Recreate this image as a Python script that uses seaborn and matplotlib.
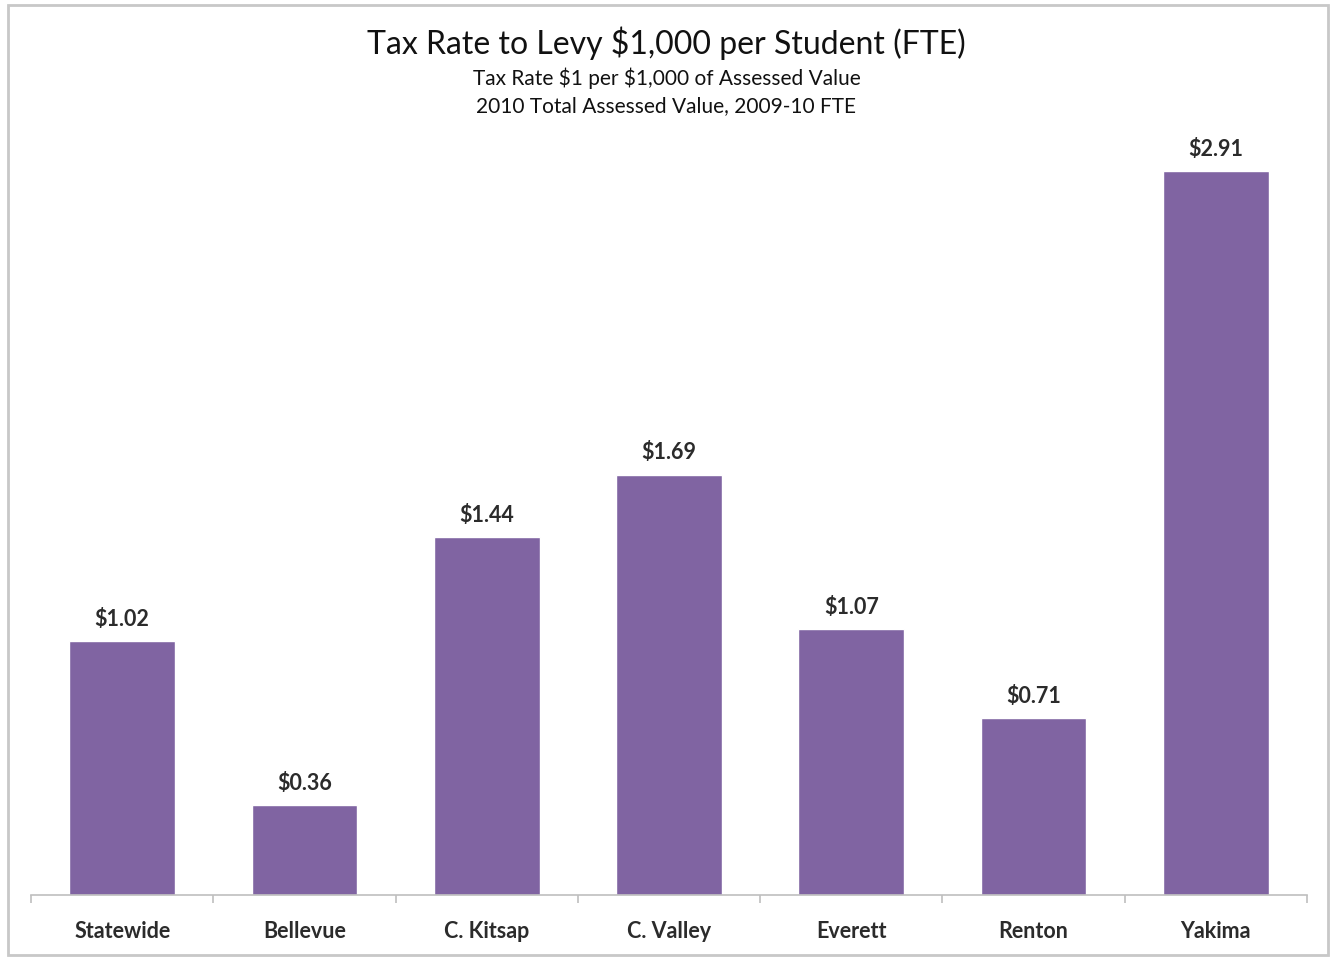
import matplotlib
matplotlib.use("Agg")
import matplotlib.pyplot as plt
import seaborn as sns
import pandas as pd
from matplotlib.patches import Rectangle

districts = ["Statewide", "Bellevue", "C. Kitsap", "C. Valley", "Everett", "Renton", "Yakima"]
tax_rates = [1.02, 0.36, 1.44, 1.69, 1.07, 0.71, 2.91]

title = "Tax Rate to Levy $1,000 per Student (FTE)"
subtitle_1 = "Tax Rate $1 per $1,000 of Assessed Value"
subtitle_2 = "2010 Total Assessed Value, 2009-10 FTE"

sns.set_theme(style="white")
plt.rcParams["font.family"] = ["Lato", "DejaVu Sans"]

df = pd.DataFrame({"district": districts, "rate": tax_rates})

fig = plt.figure(figsize=(13.33, 9.58), dpi=100)
ax = fig.add_axes([0.0233, 0.0658, 0.9572, 0.8309])

sns.barplot(data=df, x="district", y="rate", color="#8064A2", saturation=1,
            width=0.58, ax=ax)

ax.set_ylim(0, 3.2)
ax.set_xlim(-0.5, len(districts) - 0.5)
ax.set_xlabel("")
ax.set_ylabel("")
ax.set_yticks([])
for side in ["top", "right", "left"]:
    ax.spines[side].set_visible(False)
ax.spines["bottom"].set_color("#BFBFBF")
ax.spines["bottom"].set_linewidth(1.2)

# category labels centred under bars, boundary ticks between categories
ax.set_xticks(range(len(districts)))
ax.set_xticklabels(districts, fontsize=15.5, fontweight="bold", color="#2b2b2b")
ax.tick_params(axis="x", which="major", length=0, pad=19)
ax.set_xticks([i - 0.5 for i in range(len(districts) + 1)], minor=True)
ax.tick_params(axis="x", which="minor", length=6, width=1.2, color="#BFBFBF",
               direction="out", bottom=True)

for i, v in enumerate(tax_rates):
    ax.annotate(f"${v:.2f}", (i, v), xytext=(0, 8), textcoords="offset points",
                ha="center", va="bottom", fontsize=15.5, fontweight="bold",
                color="#2b2b2b", parse_math=False)

fig.text(0.5, 0.955, title, ha="center", va="center", fontsize=23,
         color="#111111", parse_math=False)
fig.text(0.5, 0.918, subtitle_1, ha="center", va="center", fontsize=15,
         color="#111111", parse_math=False)
fig.text(0.5, 0.889, subtitle_2, ha="center", va="center", fontsize=15,
         color="#111111", parse_math=False)

# thin grey frame around the whole chart
fig.patches.append(Rectangle((8 / 1333, 3 / 958), 1320 / 1333, 950 / 958,
                             transform=fig.transFigure, fill=False,
                             edgecolor="#C8C8C8", linewidth=2))

fig.savefig("out.png", dpi=100)
